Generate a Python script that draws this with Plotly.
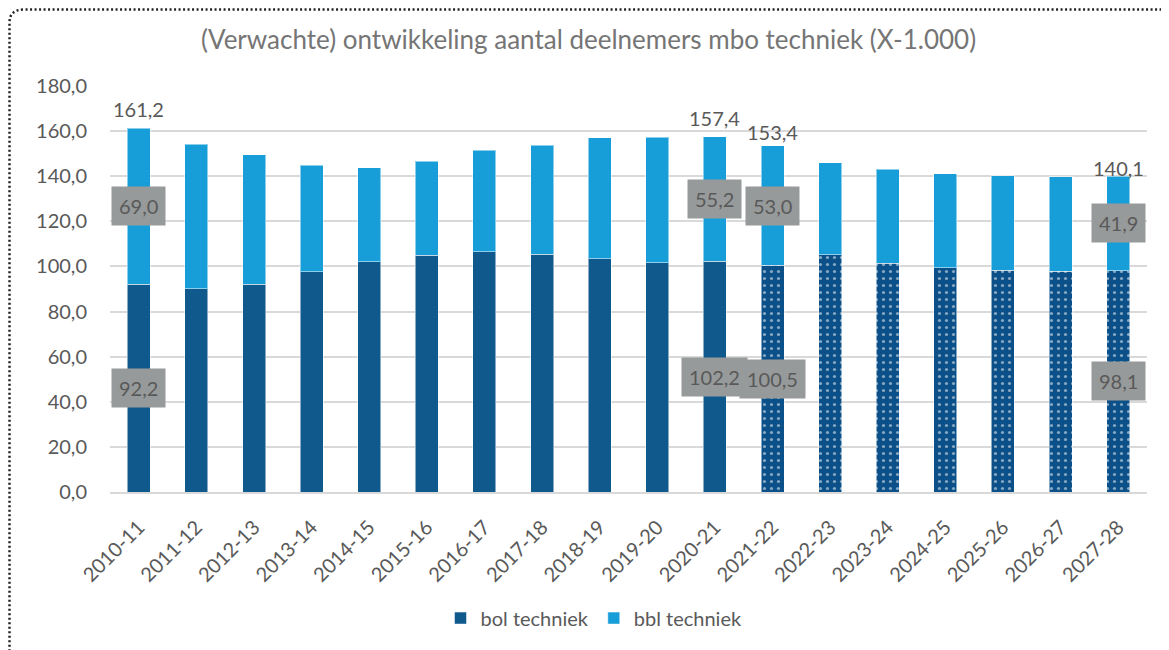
import plotly.graph_objects as go

categories = ["2010-11", "2011-12", "2012-13", "2013-14", "2014-15", "2015-16",
              "2016-17", "2017-18", "2018-19", "2019-20", "2020-21", "2021-22",
              "2022-23", "2023-24", "2024-25", "2025-26", "2026-27", "2027-28"]
bol = [92.2, 90.1, 92.1, 97.6, 102.0, 105.0, 106.6, 105.4, 103.5, 101.7, 102.2, 100.5,
       105.1, 101.4, 99.4, 98.4, 97.9, 98.1]
bbl = [69.0, 64.0, 57.5, 47.2, 41.7, 41.6, 45.0, 48.4, 53.5, 55.6, 55.2, 53.0,
       40.9, 41.7, 41.8, 41.9, 41.9, 41.9]
# first forecast year (dotted fill from here on)
forecast_start = "2021-22"
# categories that carry value labels, and their total labels
labelled = ["2010-11", "2020-21", "2021-22", "2027-28"]
total_labels = [161.2, 157.4, 153.4, 140.1]

DARK = "#10598C"
DARK_FC = "#0B5088"
LIGHT = "#179ED8"
GRAY_TXT = "#595959"
FONT = "Lato"

fs = categories.index(forecast_start)
shapes_pat = ["" if i < fs else "." for i in range(len(categories))]
dark_cols = [DARK if i < fs else DARK_FC for i in range(len(categories))]

fig = go.Figure()
fig.add_trace(go.Bar(
    x=categories, y=bol, name="bol techniek",
    marker=dict(color=dark_cols, line=dict(color="rgba(255,255,255,0.5)", width=1),
                pattern=dict(shape=shapes_pat, fgcolor="white",
                             size=7, solidity=0.16, fillmode="overlay")),
))
fig.add_trace(go.Bar(
    x=categories, y=bbl, name="bbl techniek",
    marker=dict(color=LIGHT, line=dict(color="rgba(255,255,255,0.5)", width=1)),
))

def fmt(v):
    return f"{v:.1f}".replace(".", ",")

annotations = []
box = dict(bgcolor="#979A9A", borderpad=7, font=dict(family=FONT, size=20, color=GRAY_TXT),
           showarrow=False, xanchor="center", yanchor="middle")
for c in labelled:
    i = categories.index(c)
    annotations.append(dict(x=c, y=bol[i] / 2, text=fmt(bol[i]), **box))
    annotations.append(dict(x=c, y=bol[i] + bbl[i] / 2, text=fmt(bbl[i]), **box))

total_shift = [5, 5, 0, -6]
for c, t, s in zip(labelled, total_labels, total_shift):
    annotations.append(dict(x=c, y=t, text=fmt(t), showarrow=False, yanchor="bottom",
                            xanchor="center", yshift=s,
                            font=dict(family=FONT, size=20, color=GRAY_TXT)))

# page geometry (the page body adds an 8px offset)
OFF = 8
W, H = 1169 - OFF, 650 - OFF
L, T = 110 - OFF, 86 - OFF
R = W - (1147 - OFF)
B = H - (495 - OFF)
pw, ph = W - L - R, H - T - B
def px(x):
    return (x - OFF - L) / pw
def py(y):
    return (H - B - (y - OFF)) / ph

frame = (f"M {px(9.5)},{py(660)} L {px(9.5)},{py(22)} "
         f"Q {px(9.5)},{py(9)} {px(24)},{py(9)} L {px(1180)},{py(9)}")

fig.update_layout(
    barmode="stack",
    bargap=0.6,
    width=W, height=H,
    margin=dict(l=L, r=R, t=T, b=B),
    paper_bgcolor="white",
    plot_bgcolor="white",
    separators=",.",
    font=dict(family=FONT, color=GRAY_TXT, size=18),
    title=dict(text="(Verwachte) ontwikkeling aantal deelnemers mbo techniek (X-1.000)",
               x=0.5, xanchor="center", y=1 - (40 - OFF) / H, yanchor="middle",
               font=dict(family=FONT, size=26, color="#757575")),
    legend=dict(orientation="h", x=px(594), xanchor="center", y=py(622), yanchor="middle",
                font=dict(family=FONT, size=20, color=GRAY_TXT), traceorder="normal"),
    annotations=annotations,
    shapes=[dict(type="path", path=frame, xref="paper", yref="paper",
                 line=dict(color="#222222", width=2.5, dash="2px,2.5px"))],
)
fig.update_yaxes(range=[0, 180], dtick=20, tickformat=".1f", showgrid=True,
                 gridcolor="#D9D9D9", gridwidth=1.5, zeroline=False, showline=False,
                 ticks="", ticklabelstandoff=22,
                 tickfont=dict(family=FONT, size=20, color=GRAY_TXT))
fig.update_xaxes(type="category", showline=True, linecolor="#D9D9D9", linewidth=1.5,
                 tickangle=-45, ticks="", ticklabelstandoff=14,
                 tickfont=dict(family=FONT, size=20, color=GRAY_TXT))

fig.write_html("out.html")
